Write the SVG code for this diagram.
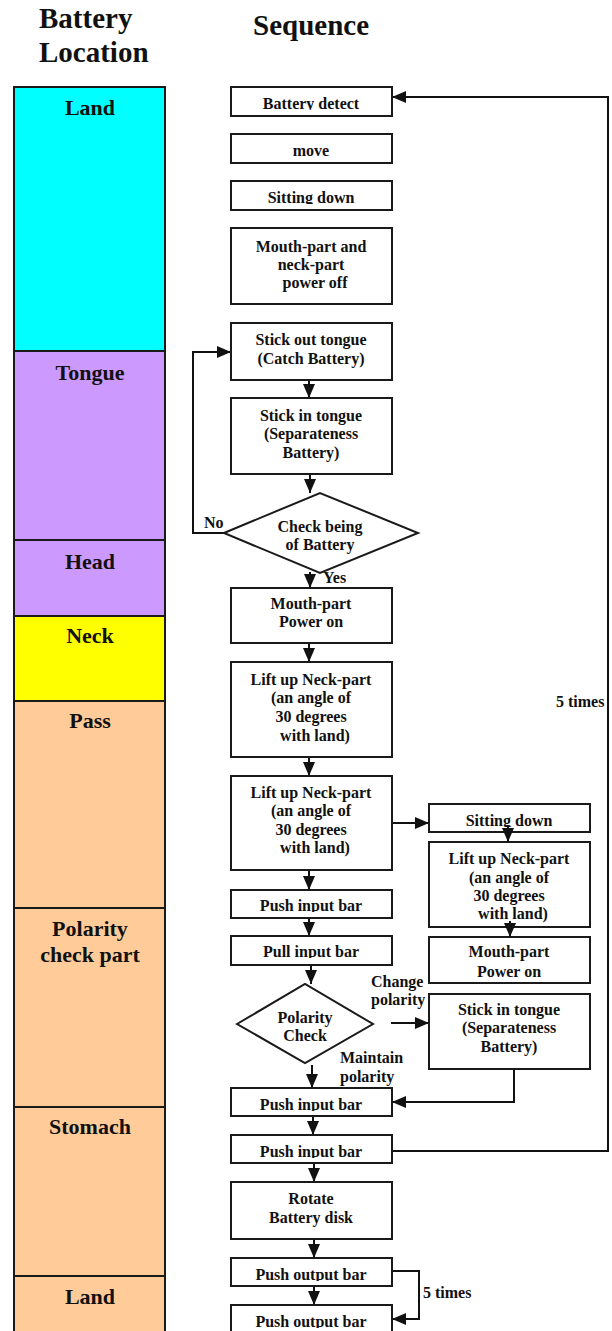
<svg xmlns="http://www.w3.org/2000/svg" width="612" height="1331" viewBox="0 0 612 1331">
<style>
text{font-family:"Liberation Serif","Times New Roman",serif;font-weight:bold;fill:#111}
.hd{font-size:29px}
.loc{font-size:22px;text-anchor:middle}
.bt{font-size:16px;text-anchor:middle}
.lb{font-size:16px}
.seg{stroke:#1a1a1a;stroke-width:2}
.box{fill:#fff;stroke:#1a1a1a;stroke-width:2}
.ln{fill:none;stroke:#111;stroke-width:2}
</style>
<defs>
<marker id="ah" markerWidth="14" markerHeight="12" refX="14" refY="6" orient="auto" markerUnits="userSpaceOnUse"><path d="M0,0 L14,6 L0,12 z" fill="#111"/></marker>
<clipPath id="c1"><rect x="232" y="88" width="159" height="22"/></clipPath>
<clipPath id="c2"><rect x="232" y="135" width="159" height="22"/></clipPath>
<clipPath id="c3"><rect x="232" y="182" width="159" height="22"/></clipPath>
<clipPath id="c4"><rect x="232" y="891" width="159" height="21"/></clipPath>
<clipPath id="c5"><rect x="232" y="937" width="159" height="21"/></clipPath>
<clipPath id="c6"><rect x="232" y="1089" width="159" height="22"/></clipPath>
<clipPath id="c7"><rect x="232" y="1136" width="159" height="22"/></clipPath>
<clipPath id="c8"><rect x="232" y="1259" width="159" height="22"/></clipPath>
<clipPath id="c9"><rect x="232" y="1306" width="159" height="22"/></clipPath>
<clipPath id="c10"><rect x="430" y="805" width="159" height="22"/></clipPath>
</defs>
<rect width="612" height="1331" fill="#fff"/>
<g id="headers">
<text class="hd" x="39" y="28">Battery</text>
<text class="hd" x="39" y="62">Location</text>
<text class="hd" x="253" y="35">Sequence</text>
</g>
<g id="locations">
<g id="loc-land1"><rect class="seg" x="14" y="87" width="151" height="264" fill="#00FFFF"/><text class="loc" x="90" y="115">Land</text></g>
<g id="loc-tongue"><rect class="seg" x="14" y="351" width="151" height="189" fill="#CC99FF"/><text class="loc" x="90" y="380">Tongue</text></g>
<g id="loc-head"><rect class="seg" x="14" y="540" width="151" height="76" fill="#CC99FF"/><text class="loc" x="90" y="569">Head</text></g>
<g id="loc-neck"><rect class="seg" x="14" y="616" width="151" height="85" fill="#FFFF00"/><text class="loc" x="90" y="643">Neck</text></g>
<g id="loc-pass"><rect class="seg" x="14" y="701" width="151" height="207" fill="#FFCC99"/><text class="loc" x="90" y="728">Pass</text></g>
<g id="loc-polarity"><rect class="seg" x="14" y="908" width="151" height="199" fill="#FFCC99"/><text class="loc" x="90" y="936">Polarity</text><text class="loc" x="90" y="962">check part</text></g>
<g id="loc-stomach"><rect class="seg" x="14" y="1107" width="151" height="169" fill="#FFCC99"/><text class="loc" x="90" y="1134">Stomach</text></g>
<g id="loc-land2"><rect class="seg" x="14" y="1276" width="151" height="70" fill="#FFCC99"/><text class="loc" x="90" y="1304">Land</text></g>
</g>
<g id="connectors">
<path class="ln" d="M309,380 V398" marker-end="url(#ah)"/>
<path class="ln" d="M310,474 V493" marker-end="url(#ah)"/>
<path class="ln" d="M310,572 V588" marker-end="url(#ah)"/>
<path class="ln" d="M224,533 H193 V352 H231" marker-end="url(#ah)"/>
<path class="ln" d="M309,643 V662" marker-end="url(#ah)"/>
<path class="ln" d="M309,757 V776" marker-end="url(#ah)"/>
<path class="ln" d="M309,870 V890" marker-end="url(#ah)"/>
<path class="ln" d="M309,918 V936" marker-end="url(#ah)"/>
<path class="ln" d="M311,965 V984" marker-end="url(#ah)"/>
<path class="ln" d="M312,1065 V1088" marker-end="url(#ah)"/>
<path class="ln" d="M313,1116 V1135" marker-end="url(#ah)"/>
<path class="ln" d="M314,1163 V1182" marker-end="url(#ah)"/>
<path class="ln" d="M314,1239 V1258" marker-end="url(#ah)"/>
<path class="ln" d="M314,1286 V1305" marker-end="url(#ah)"/>
<path class="ln" d="M392,823 H429" marker-end="url(#ah)"/>
<path class="ln" d="M391,1023 H429" marker-end="url(#ah)"/>
<path class="ln" d="M514,1069 V1102 H392" marker-end="url(#ah)"/>
<path class="ln" d="M392,1151 H608 V97 H392" marker-end="url(#ah)"/>
<path class="ln" d="M392,1271 H419 V1319 H392" marker-end="url(#ah)"/>
<text class="lb" x="204" y="528">No</text>
<text class="lb" x="323" y="583">Yes</text>
<text class="lb" x="556" y="707">5 times</text>
<text class="lb" x="371" y="987">Change</text>
<text class="lb" x="371" y="1005">polarity</text>
<text class="lb" x="340" y="1063">Maintain</text>
<text class="lb" x="340" y="1082">polarity</text>
<text class="lb" x="423" y="1298">5 times</text>
</g>
<g id="n-battery-detect"><rect class="box" x="231" y="87" width="161" height="29"/><text class="bt" x="311" y="109" clip-path="url(#c1)">Battery detect</text></g>
<g id="n-move"><rect class="box" x="231" y="134" width="161" height="29"/><text class="bt" x="311" y="156" clip-path="url(#c2)">move</text></g>
<g id="n-sitting-down"><rect class="box" x="231" y="181" width="161" height="29"/><text class="bt" x="311" y="203" clip-path="url(#c3)">Sitting down</text></g>
<g id="n-power-off"><rect class="box" x="231" y="228" width="161" height="76"/><text class="bt" x="311" y="252">Mouth-part and</text><text class="bt" x="311" y="270">neck-part</text><text class="bt" x="315" y="288">power off</text></g>
<g id="n-stick-out"><rect class="box" x="231" y="323" width="161" height="57"/><text class="bt" x="311" y="345">Stick out tongue</text><text class="bt" x="311" y="364">(Catch Battery)</text></g>
<g id="n-stick-in"><rect class="box" x="231" y="398" width="161" height="76"/><text class="bt" x="311" y="421">Stick in tongue</text><text class="bt" x="311" y="439">(Separateness</text><text class="bt" x="311" y="458">Battery)</text></g>
<g id="n-check"><polygon class="box" points="224,533 320,493 418,533 320,573"/><text class="bt" x="320" y="532">Check being</text><text class="bt" x="320" y="550">of Battery</text></g>
<g id="n-power-on"><rect class="box" x="231" y="588" width="161" height="55"/><text class="bt" x="311" y="609">Mouth-part</text><text class="bt" x="311" y="627">Power on</text></g>
<g id="n-lift1"><rect class="box" x="231" y="662" width="161" height="95"/><text class="bt" x="311" y="685">Lift up Neck-part</text><text class="bt" x="311" y="703">(an angle of</text><text class="bt" x="311" y="722">30 degrees</text><text class="bt" x="315" y="741">with land)</text></g>
<g id="n-lift2"><rect class="box" x="231" y="776" width="161" height="94"/><text class="bt" x="311" y="798">Lift up Neck-part</text><text class="bt" x="311" y="816">(an angle of</text><text class="bt" x="311" y="835">30 degrees</text><text class="bt" x="315" y="853">with land)</text></g>
<g id="n-push1"><rect class="box" x="231" y="890" width="161" height="28"/><text class="bt" x="311" y="911" clip-path="url(#c4)">Push input bar</text></g>
<g id="n-pull"><rect class="box" x="231" y="936" width="161" height="29"/><text class="bt" x="311" y="957" clip-path="url(#c5)">Pull input bar</text></g>
<g id="n-polarity"><polygon class="box" points="237,1024 305,984 373,1024 305,1063"/><text class="bt" x="305" y="1023">Polarity</text><text class="bt" x="305" y="1041">Check</text></g>
<g id="n-push2"><rect class="box" x="231" y="1088" width="161" height="28"/><text class="bt" x="311" y="1110" clip-path="url(#c6)">Push input bar</text></g>
<g id="n-push3"><rect class="box" x="231" y="1135" width="161" height="28"/><text class="bt" x="311" y="1157" clip-path="url(#c7)">Push input bar</text></g>
<g id="n-rotate"><rect class="box" x="231" y="1182" width="161" height="57"/><text class="bt" x="311" y="1204">Rotate</text><text class="bt" x="311" y="1223">Battery disk</text></g>
<g id="n-out1"><rect class="box" x="231" y="1258" width="161" height="28"/><text class="bt" x="311" y="1280" clip-path="url(#c8)">Push output bar</text></g>
<g id="n-out2"><rect class="box" x="231" y="1305" width="161" height="40"/><text class="bt" x="311" y="1327" clip-path="url(#c9)">Push output bar</text></g>
<g id="n-r-sitting"><rect class="box" x="429" y="804" width="161" height="28"/><text class="bt" x="509" y="826" clip-path="url(#c10)">Sitting down</text></g>
<g id="n-r-lift"><rect class="box" x="429" y="842" width="161" height="85"/><text class="bt" x="509" y="864">Lift up Neck-part</text><text class="bt" x="509" y="883">(an angle of</text><text class="bt" x="509" y="901">30 degrees</text><text class="bt" x="513" y="919">with land)</text></g>
<g id="n-r-power-on"><rect class="box" x="429" y="937" width="161" height="46"/><text class="bt" x="509" y="957">Mouth-part</text><text class="bt" x="509" y="977">Power on</text></g>
<g id="n-r-stick-in"><rect class="box" x="429" y="994" width="161" height="75"/><text class="bt" x="509" y="1015">Stick in tongue</text><text class="bt" x="509" y="1033">(Separateness</text><text class="bt" x="509" y="1052">Battery)</text></g>
<g id="connectors-overlay">
<path class="ln" d="M508,827 V842" marker-end="url(#ah)"/>
<path class="ln" d="M510,921 V937" marker-end="url(#ah)"/>
</g>
</svg>
